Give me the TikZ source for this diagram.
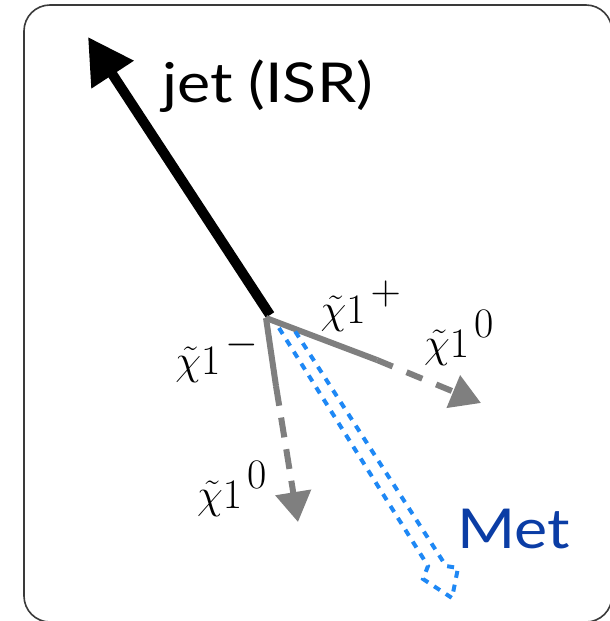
\RequirePackage{fix-cm}
\documentclass[tikz,border=0pt]{standalone}
\usepackage{fontspec}
\setsansfont{Lato}
\usetikzlibrary{arrows.meta}
\definecolor{boxrim}{HTML}{3A3A3A}
\definecolor{sparti}{HTML}{7F7F7F}
\definecolor{metdash}{HTML}{1E88F5}
\definecolor{metink}{HTML}{0B3DA5}
\tikzset{
  decay/.style={sparti, line width=6pt, line cap=butt},
  chilabel/.style={inner sep=0pt, font=\fontsize{42}{48}\selectfont},
  biglabel/.style={inner sep=0pt, font=\sffamily\fontsize{55}{60}\selectfont}
}
\newcommand{\chitil}[1]{$\tilde{\chi}1^{\,\raisebox{0.1em}{$\textstyle #1$}}$}
\newcommand{\widesans}[1]{\scalebox{1.14}[1]{#1}}

\begin{document}
\begin{tikzpicture}[x=1pt,y=-1pt, line join=miter]
  \useasboundingbox (0,0) rectangle (610,621);
  % frame, runs off the right and bottom edges
  \draw[boxrim, line width=1.6pt, rounded corners=26pt] (24,5) rectangle (612,622);

  % points of the event
  \coordinate (vtx)    at (266,318);
  \coordinate (jettip) at (88,37);
  \coordinate (cpbrk)  at (377,360);
  \coordinate (cptip)  at (481,403);
  \coordinate (cmbrk)  at (276,386);
  \coordinate (cmtip)  at (298,522);

  % ISR jet
  \draw[line width=10pt, -{Triangle[length=45pt,width=48pt]}] (270,315) -- (jettip);

  % chargino +, then neutralino
  \draw[decay] (vtx) -- (cpbrk);
  \draw[decay, dash pattern=on 17pt off 15pt, -{Triangle[length=30pt,width=34pt]}] (cpbrk) -- (cptip);
  % chargino -, then neutralino
  \draw[decay] (vtx) -- (cmbrk);
  \draw[decay, dash pattern=on 20pt off 12pt, -{Triangle[length=30pt,width=35pt]}] (cmbrk) -- (cmtip);

  % missing energy, hollow dashed arrow
  \draw[metdash, line width=4pt, dash pattern=on 7pt off 7pt]
    (279,328) -- (428,566) -- (423,579) -- (452,598) -- (458,568) -- (446,566) -- (293,328);

  \node[biglabel, anchor=base west] (jetlbl) at (162,102) {\widesans{jet (ISR)}};
  \node[biglabel, anchor=base west, text=metink] (metlbl) at (457,548) {\widesans{Met}};
  \node[chilabel] (cplbl) at (361,306) {\chitil{+}};
  \node[chilabel] (cmlbl) at (217,357) {\chitil{-}};
  \node[chilabel] (n1lbl) at (459,338) {\chitil{0}};
  \node[chilabel] (n2lbl) at (232,489) {\chitil{0}};
\end{tikzpicture}
\end{document}
